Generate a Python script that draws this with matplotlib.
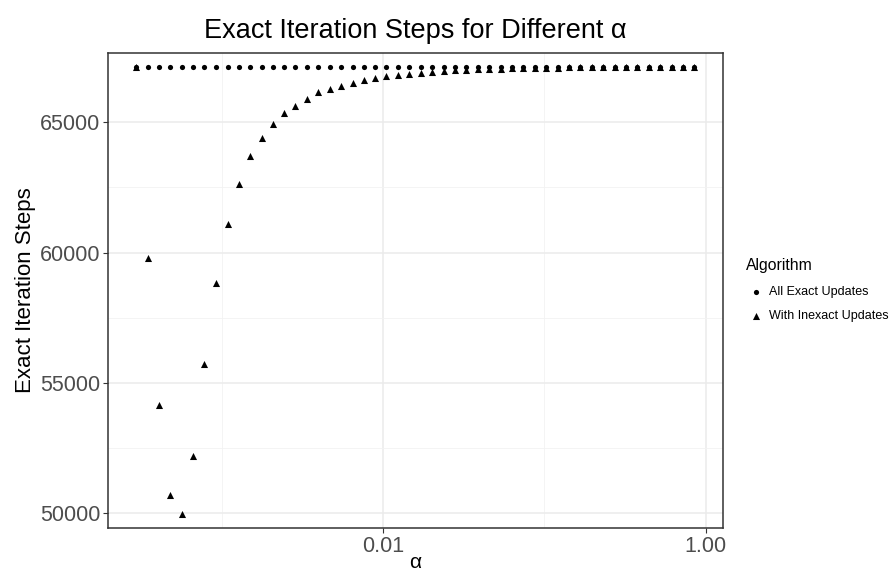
import matplotlib
matplotlib.use("Agg")
import matplotlib.pyplot as plt
from matplotlib.ticker import FixedLocator, FixedFormatter

plt.rcParams['font.family'] = ['Liberation Sans', 'DejaVu Sans']

# alpha values (0.85^k), smallest first
alpha = [
    2.96e-04, 3.48e-04, 4.09e-04, 4.82e-04, 5.67e-04, 6.67e-04, 7.84e-04, 9.23e-04,
    1.09e-03, 1.28e-03, 1.50e-03, 1.77e-03, 2.08e-03, 2.44e-03, 2.87e-03, 3.38e-03,
    3.98e-03, 4.68e-03, 5.50e-03, 6.48e-03, 7.62e-03, 8.96e-03, 1.05e-02, 1.24e-02,
    1.46e-02, 1.72e-02, 2.02e-02, 2.38e-02, 2.80e-02, 3.29e-02, 3.87e-02, 4.55e-02,
    5.36e-02, 6.30e-02, 7.41e-02, 8.72e-02, 1.03e-01, 1.21e-01, 1.42e-01, 1.67e-01,
    1.97e-01, 2.31e-01, 2.72e-01, 3.20e-01, 3.77e-01, 4.44e-01, 5.22e-01, 6.14e-01,
    7.23e-01, 8.50e-01,
]

exact_steps = [67100] * 50

inexact_steps = [
    67100, 59774, 54153, 50709, 49996, 52213, 55736, 58824, 61081, 62625,
    63693, 64406, 64921, 65356, 65633, 65871, 66148, 66267, 66386, 66504,
    66600, 66680, 66750, 66810, 66860, 66900, 66935, 66965, 66990, 67010,
    67025, 67040, 67052, 67062, 67070, 67077, 67083, 67088, 67092, 67095,
    67097, 67098, 67099, 67100, 67100, 67100, 67100, 67100, 67100, 67100,
]

fig = plt.figure(figsize=(8.96, 5.74), dpi=100)
ax = fig.add_axes([0.1205, 0.080, 0.686, 0.828])

ax.scatter(alpha, exact_steps, marker='o', s=14, color='black', linewidths=0,
           label='All Exact Updates', zorder=3)
ax.scatter(alpha, inexact_steps, marker='^', s=26, color='black', linewidths=0,
           label='With Inexact Updates', zorder=3)

ax.set_xscale('log')
ax.set_xlim(alpha[0] / 10 ** 0.1747, alpha[-1] * 10 ** 0.1747)
ax.set_ylim(49441, 67655)

ax.xaxis.set_major_locator(FixedLocator([1e-4, 1e-2, 1.0]))
ax.xaxis.set_major_formatter(FixedFormatter(['0.00', '0.01', '1.00']))
ax.xaxis.set_minor_locator(FixedLocator([1e-3, 1e-1]))
ax.xaxis.set_minor_formatter(FixedFormatter(['', '']))
ax.set_yticks([50000, 55000, 60000, 65000])
ax.set_yticklabels(['50000', '55000', '60000', '65000'])
ax.set_yticks([52500, 57500, 62500], minor=True)

ax.grid(True, which='major', color='#ebebeb', linewidth=1.1)
ax.grid(True, which='minor', color='#f2f2f2', linewidth=0.6)
ax.set_axisbelow(True)

for sp in ax.spines.values():
    sp.set_color('#333333')
    sp.set_linewidth(1.1)

ax.tick_params(which='major', length=3.5, width=0.8, color='#333333',
               labelcolor='#4d4d4d', labelsize=15.5, pad=2)
ax.tick_params(which='minor', length=0)

ax.set_xlabel('α', fontsize=15, labelpad=-3)
ax.set_ylabel('Exact Iteration Steps', fontsize=16, labelpad=3)
ax.set_title('Exact Iteration Steps for Different α', fontsize=19.5, pad=11)

leg = ax.legend(loc='center left', bbox_to_anchor=(1.03, 0.5), frameon=False,
                title='Algorithm', fontsize=9, title_fontsize=11.3,
                handletextpad=0.2, handlelength=1.6, labelspacing=1.0,
                markerscale=1.0, borderaxespad=0)
leg._legend_box.align = 'left'

fig.savefig('out.png', dpi=100)
